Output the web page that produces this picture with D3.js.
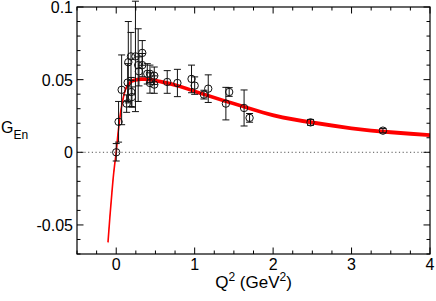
<!DOCTYPE html>
<html>
<head>
<meta charset="utf-8">
<script src="https://cdn.jsdelivr.net/npm/d3@7"></script>
<style>
  body { margin: 0; background: #fff; }
</style>
</head>
<body>
<script>
// data: Q2 (GeV^2), G_En, error
var q2 = [0.000, 0.030, 0.069, 0.133, 0.146, 0.154, 0.188, 0.192, 0.200, 0.245,
          0.280, 0.290, 0.332, 0.332, 0.396, 0.430, 0.485, 0.430, 0.485, 0.650,
          0.780, 0.960, 1.000, 1.118, 1.173, 1.398, 1.440, 1.630, 1.700, 2.477, 3.400];
var gen = [0.0000, 0.0210, 0.0430, 0.0335, 0.0480, 0.0620, 0.0660, 0.0415, 0.0380, 0.0660,
           0.0600, 0.0557, 0.0684, 0.0600, 0.0540, 0.0540, 0.0527, 0.0477, 0.0466, 0.0484,
           0.0477, 0.0505, 0.0459, 0.0397, 0.0438, 0.0335, 0.0415, 0.0305, 0.0237, 0.0206, 0.0149];
var genErr = [0.0060, 0.0140, 0.0240, 0.0060, 0.0130, 0.0280, 0.0165, 0.0100, 0.0070, 0.0380,
              0.0250, 0.0100, 0.0085, 0.0080, 0.0070, 0.0060, 0.0060, 0.0070, 0.0060, 0.0078,
              0.0094, 0.0095, 0.0060, 0.0030, 0.0095, 0.0112, 0.0030, 0.0124, 0.0030, 0.0020, 0.0015];

// fit curve (centre) and its half width
var curveQ2 = [-0.105, -0.08, -0.06, -0.04, -0.02, 0, 0.02, 0.04, 0.06, 0.09, 0.12, 0.16, 0.2,
               0.25, 0.32, 0.4, 0.5, 0.6, 0.8, 1.0, 1.2, 1.5, 2.0, 2.5, 3.0, 3.5, 4.0];
var curveG = [-0.062, -0.044, -0.031, -0.0185, -0.0085, 0, 0.0115, 0.021, 0.029, 0.0375, 0.0435,
              0.047, 0.049, 0.0498, 0.0503, 0.0502, 0.0493, 0.0482, 0.0455, 0.042, 0.0385,
              0.0335, 0.0255, 0.0205, 0.0165, 0.0138, 0.0118];
var curveHalf = 0.0013;

var xMajor = [0, 1, 2, 3, 4];
var yMajor = [-0.05, 0, 0.05, 0.1];
var yLabels = ["-0.05", "0", "0.05", "0.1"];

var font = "'Liberation Sans', Arial, sans-serif";
var width = 436, height = 301;
var margin = {top: 7, right: 6, bottom: 47, left: 77};
var svg = d3.select("body").append("svg")
  .attr("width", width)
  .attr("height", height)
  .attr("font-family", font);

var x = d3.scaleLinear().domain([-0.5, 4]).range([margin.left, width - margin.right]);
var y = d3.scaleLinear().domain([-0.07, 0.1]).range([height - margin.bottom, margin.top]);

var x0 = x.range()[0], x1 = x.range()[1];
var y0 = y.range()[0], y1 = y.range()[1];

// zero line
svg.append("line")
  .attr("x1", x0).attr("x2", x1)
  .attr("y1", y(0)).attr("y2", y(0))
  .attr("stroke", "#555").attr("stroke-width", 1)
  .attr("stroke-dasharray", "1.2,2.5");

// curve band
var pts = curveQ2.map((q, i) => [q, curveG[i]]);
var area = d3.area()
  .x(d => x(d[0]))
  .y0(d => y(d[1] - curveHalf))
  .y1(d => y(d[1] + curveHalf))
  .curve(d3.curveMonotoneX);
var line = d3.line()
  .x(d => x(d[0]))
  .y(d => y(d[1]))
  .curve(d3.curveMonotoneX);
svg.append("path").attr("d", area(pts)).attr("fill", "red");
svg.append("path").attr("d", line(pts))
  .attr("fill", "none").attr("stroke", "red").attr("stroke-width", 1.6);

// data points
var pg = svg.append("g").attr("stroke", "#111").attr("fill", "none").attr("stroke-width", 1);
q2.forEach(function(q, i) {
  var cx = x(q);
  var top = y(gen[i] + genErr[i]), bot = y(gen[i] - genErr[i]);
  pg.append("line").attr("x1", cx).attr("x2", cx).attr("y1", top).attr("y2", bot);
  pg.append("line").attr("x1", cx - 3.5).attr("x2", cx + 3.5).attr("y1", top).attr("y2", top);
  pg.append("line").attr("x1", cx - 3.5).attr("x2", cx + 3.5).attr("y1", bot).attr("y2", bot);
  pg.append("circle").attr("cx", cx).attr("cy", y(gen[i])).attr("r", 3.7);
});

// frame
svg.append("rect")
  .attr("x", x0).attr("y", y1)
  .attr("width", x1 - x0).attr("height", y0 - y1)
  .attr("fill", "none").attr("stroke", "#000").attr("stroke-width", 1.2);

// ticks (inward, all four sides)
var tg = svg.append("g").attr("stroke", "#000").attr("stroke-width", 1);
var xMinor = d3.range(-0.5, 4.001, 0.25);
xMinor.forEach(function(v) {
  var major = xMajor.indexOf(Math.round(v * 100) / 100) >= 0;
  var len = major ? 6.5 : 3.5;
  tg.append("line").attr("x1", x(v)).attr("x2", x(v)).attr("y1", y0).attr("y2", y0 - len);
  tg.append("line").attr("x1", x(v)).attr("x2", x(v)).attr("y1", y1).attr("y2", y1 + len);
});
var yMinor = d3.range(-0.07, 0.1001, 0.01);
yMinor.forEach(function(v) {
  var r = Math.round(v * 1000) / 1000;
  var major = yMajor.some(m => Math.abs(m - r) < 1e-6);
  var len = major ? 6.5 : 3.5;
  tg.append("line").attr("y1", y(r)).attr("y2", y(r)).attr("x1", x0).attr("x2", x0 + len);
  tg.append("line").attr("y1", y(r)).attr("y2", y(r)).attr("x1", x1).attr("x2", x1 - len);
});

// tick labels
svg.append("g").selectAll("text").data(xMajor).join("text")
  .attr("x", d => x(d)).attr("y", y0 + 15.5)
  .attr("text-anchor", "middle").attr("font-size", 16)
  .text(d => d);
svg.append("g").selectAll("text").data(yMajor).join("text")
  .attr("x", x0 - 4).attr("y", d => y(d) + 6)
  .attr("text-anchor", "end").attr("font-size", 16)
  .text((d, i) => yLabels[i]);

// axis titles
var xt = svg.append("text")
  .attr("x", (x0 + x1) / 2).attr("y", 288)
  .attr("text-anchor", "middle").attr("font-size", 17);
xt.append("tspan").text("Q");
xt.append("tspan").attr("font-size", 12).attr("dy", -7).text("2");
xt.append("tspan").attr("dy", 7).text(" (GeV");
xt.append("tspan").attr("font-size", 12).attr("dy", -7).text("2");
xt.append("tspan").attr("dy", 7).text(")");

var yt = svg.append("text").attr("x", 1).attr("y", 133).attr("font-size", 16);
yt.append("tspan").text("G");
yt.append("tspan").attr("font-size", 12).attr("dy", 6).text("En");
</script>
</body>
</html>
